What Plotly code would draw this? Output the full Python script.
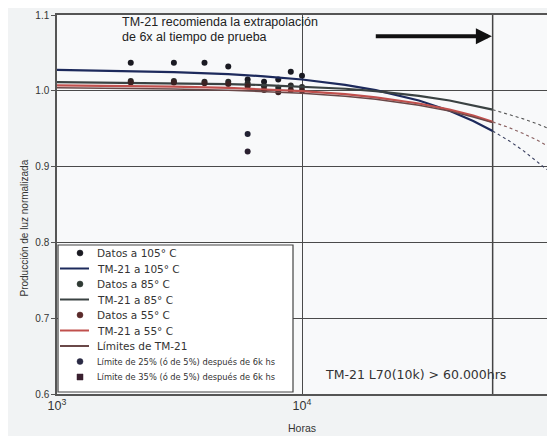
import plotly.graph_objects as go

# ---- data ----
data_hours = [2000, 3000, 4000, 5000, 6000, 7000, 8000, 9000, 10000]
datos_105 = [1.037, 1.037, 1.037, 1.032, 1.015, 1.012, 1.015, 1.025, 1.020]
datos_85 = [1.013, 1.013, 1.012, 1.012, 1.010, 1.006, 1.004, 1.007, 1.005]
datos_55 = [1.011, 1.011, 1.010, 1.009, 1.006, 1.001, 0.998, 1.001, 1.000]

lim_hours = [6000]
lim_25 = [0.943]
lim_35 = [0.920]

fit_hours = [1000, 2000, 3000, 5000, 7000, 10000, 15000, 20000, 30000, 40000, 50000, 60000]
tm21_105 = [1.0276, 1.0262, 1.0247, 1.0219, 1.0191, 1.0149, 1.0079, 1.0009, 0.9872, 0.9736, 0.9602, 0.9470]
tm21_85 = [1.0114, 1.0107, 1.0101, 1.0089, 1.0076, 1.0057, 1.0027, 0.9996, 0.9933, 0.9872, 0.9811, 0.9751]
tm21_55 = [1.0072, 1.0063, 1.0055, 1.0038, 1.0022, 0.9997, 0.9955, 0.9914, 0.9832, 0.9752, 0.9672, 0.9590]
limites = [1.0040, 1.0032, 1.0024, 1.0008, 0.9993, 0.9968, 0.9928, 0.9888, 0.9810, 0.9732, 0.9655, 0.9580]

ext_hours = [60000, 70000, 80000, 90000, 100000]
ext_105 = [0.9470, 0.9340, 0.9211, 0.9085, 0.8960]
ext_85 = [0.9751, 0.9690, 0.9630, 0.9571, 0.9512]
ext_55 = [0.9590, 0.9514, 0.9436, 0.9359, 0.9277]

l70_hours = 60000

c105 = "#1d2a5c"
c85 = "#3a4242"
c55 = "#c0504d"
clim = "#6a4848"
FONT = "Liberation Sans"
WFONT = "DejaVu Sans"

fig = go.Figure()
fig.add_trace(go.Scatter(x=data_hours, y=datos_105, mode="markers", marker=dict(color="#1a1a22", size=6)))
fig.add_trace(go.Scatter(x=fit_hours, y=tm21_105, mode="lines", line=dict(color=c105, width=2.2)))
fig.add_trace(go.Scatter(x=data_hours, y=datos_85, mode="markers", marker=dict(color="#2a2a2a", size=6)))
fig.add_trace(go.Scatter(x=fit_hours, y=tm21_85, mode="lines", line=dict(color=c85, width=2.2)))
fig.add_trace(go.Scatter(x=data_hours, y=datos_55, mode="markers", marker=dict(color="#3a2222", size=6)))
fig.add_trace(go.Scatter(x=fit_hours, y=tm21_55, mode="lines", line=dict(color=c55, width=2.2)))
fig.add_trace(go.Scatter(x=fit_hours, y=limites, mode="lines", line=dict(color=clim, width=1.5)))
fig.add_trace(go.Scatter(x=lim_hours, y=lim_25, mode="markers",
                         marker=dict(color="#222233", size=6, symbol="circle")))
fig.add_trace(go.Scatter(x=lim_hours, y=lim_35, mode="markers",
                         marker=dict(color="#2a2030", size=6, symbol="circle")))
for ys, col in [(ext_105, "#3a4060"), (ext_85, "#555"), (ext_55, "#8a6060")]:
    fig.add_trace(go.Scatter(x=ext_hours, y=ys, mode="lines",
                             line=dict(color=col, width=1.1, dash="dot")))

# vertical line at L70 projection
fig.add_shape(type="line", x0=l70_hours, x1=l70_hours, y0=0, y1=1, xref="x", yref="paper",
              line=dict(color="#444", width=1.5), layer="below")

# arrow
fig.add_annotation(x=4.775, y=1.072, ax=4.295, ay=1.072, xref="x", yref="y", axref="x", ayref="y",
                   showarrow=True, arrowhead=2, arrowsize=0.8, arrowwidth=4, arrowcolor="#111", text="")


# ---- helpers: paper coordinates from the on-screen pixel layout (plot area 57..547 x 15..394) ----
def px(x):
    return (x - 57) / 490.0

def py(y):
    return (394 - y) / 379.0


fig.add_annotation(x=px(120), y=py(22), xref="paper", yref="paper", xanchor="left", yanchor="middle",
                   showarrow=False, text="TM-21 recomienda la extrapolación",
                   font=dict(size=12.5, color="#222", family=FONT))
fig.add_annotation(x=px(120), y=py(37), xref="paper", yref="paper", xanchor="left", yanchor="middle",
                   showarrow=False, text="de 6x al tiempo de prueba",
                   font=dict(size=12.5, color="#222", family=FONT))
fig.add_annotation(x=4.465, y=0.626, xref="x", yref="y", showarrow=False,
                   text="TM-21 L70(10k) > 60.000hrs",
                   font=dict(size=12.5, color="#333", family=WFONT))

# ---- manual legend ----
fig.add_shape(type="rect", xref="paper", yref="paper", x0=px(58), x1=px(293), y0=py(245), y1=py(392),
              fillcolor="#ffffff", line=dict(color="#444", width=1.2), layer="above")

legend_items = [
    ("m", "#1a1a22", "Datos a 105° C", 10.5),
    ("l", c105, "TM-21 a 105° C", 10.5),
    ("m", "#2f3a34", "Datos a 85° C", 10.5),
    ("l", c85, "TM-21 a 85° C", 10.5),
    ("m", "#5a2a2a", "Datos a 55° C", 10.5),
    ("l", c55, "TM-21 a 55° C", 10.5),
    ("l", clim, "Límites de TM-21", 10.5),
    ("m", "#2a2a44", "Límite de 25% (ó de 5%) después de 6k hs", 8.3),
    ("s", "#3a2030", "Límite de 35% (ó de 5%) después de 6k hs", 8.3),
]
for i, (kind, col, label, fs) in enumerate(legend_items):
    yy = 253 + 15.5 * i
    if kind == "l":
        fig.add_shape(type="line", xref="paper", yref="paper", x0=px(60), x1=px(89), y0=py(yy), y1=py(yy),
                      line=dict(color=col, width=2), layer="above")
    else:
        fig.add_shape(type="circle" if kind == "m" else "rect", xref="paper", yref="paper",
                      xsizemode="pixel", ysizemode="pixel", xanchor=px(80), yanchor=py(yy),
                      x0=-3, x1=3, y0=-3, y1=3, fillcolor=col, line=dict(color=col, width=0.5),
                      layer="above")
    fig.add_annotation(x=px(95), y=py(yy), xref="paper", yref="paper", xanchor="left", yanchor="middle",
                       showarrow=False, text=label, font=dict(size=fs, color="#333", family=WFONT))

# axis titles
fig.add_annotation(x=px(16), y=py(228), xref="paper", yref="paper", showarrow=False, textangle=-90,
                   text="Producción de luz normalizada", font=dict(size=10, color="#333", family=FONT))
fig.add_annotation(x=px(302), y=py(428), xref="paper", yref="paper", showarrow=False, yanchor="middle",
                   text="Horas", font=dict(size=10.5, color="#333", family=FONT))

# page body has an 8px margin: plot area sits at 57..547 x 15..394 on screen
fig.update_layout(
    width=547, height=428,
    margin=dict(l=49, r=8, t=7, b=42),
    paper_bgcolor="#f1f3f4", plot_bgcolor="#f8f9fa",
    font=dict(family=FONT, size=10, color="#333"),
    showlegend=False,
)
fig.update_xaxes(type="log", range=[3, 5], showgrid=True, gridcolor="#4a4a4a", gridwidth=1.3,
                 dtick=1, exponentformat="power", showline=True, linecolor="#555", mirror=True,
                 linewidth=1.5, ticks="", zeroline=False, automargin=False,
                 tickfont=dict(size=10))
fig.update_yaxes(range=[0.6, 1.1], dtick=0.1, tickformat=".1f", showgrid=True, gridcolor="#4a4a4a",
                 gridwidth=1.3, showline=True, linecolor="#555", mirror=True, linewidth=1.5,
                 ticks="outside", ticklen=4, tickcolor="#555", zeroline=False, automargin=False,
                 tickfont=dict(size=10))

fig.write_html("out.html")
